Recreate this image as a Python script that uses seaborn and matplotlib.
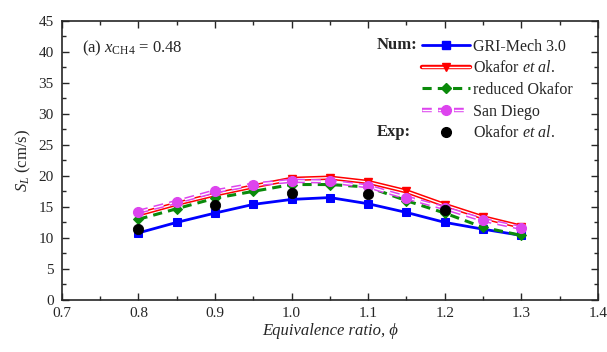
import numpy as np
import pandas as pd
import matplotlib
matplotlib.use("Agg")
import matplotlib.pyplot as plt
import seaborn as sns
from matplotlib.lines import Line2D
from matplotlib.ticker import MultipleLocator

sns.set_style("ticks")
plt.rcParams['font.family'] = ['Liberation Serif', 'DejaVu Serif']
plt.rcParams['mathtext.fontset'] = 'custom'
plt.rcParams['mathtext.rm'] = 'Liberation Serif'
plt.rcParams['mathtext.it'] = 'Liberation Serif:italic'

phi = [0.8, 0.85, 0.9, 0.95, 1.0, 1.05, 1.1, 1.15, 1.2, 1.25, 1.3]
gri = [10.8, 12.5, 14.0, 15.4, 16.2, 16.5, 15.5, 14.1, 12.5, 11.4, 10.4]
okafor = [13.8, 15.5, 17.0, 18.3, 19.5, 19.7, 19.0, 17.5, 15.3, 13.3, 11.8]
reduced = [13.0, 14.7, 16.4, 17.5, 18.6, 18.6, 18.2, 16.0, 14.0, 11.7, 10.4]
sandiego = [14.2, 15.8, 17.5, 18.6, 19.2, 19.1, 18.3, 16.5, 14.8, 12.9, 11.6]
exp_phi = [0.8, 0.9, 1.0, 1.1, 1.2]
exp_sl = [11.4, 15.3, 17.3, 17.0, 14.5]
xticks = [0.7, 0.8, 0.9, 1.0, 1.1, 1.2, 1.3, 1.4]

c_blue = '#0000ff'
c_red = '#ff0000'
c_green = '#0a8a0a'
c_pink = '#dd44ee'

fig = plt.figure(figsize=(6.07, 3.52), dpi=100)
ax = fig.add_axes([0.102, 0.148, 0.883, 0.793])

# GRI
sns.lineplot(x=phi, y=gri, ax=ax, color=c_blue, lw=2, marker='s', markersize=6,
             markeredgecolor=c_blue, zorder=3)
# Okafor (double line)
sns.lineplot(x=phi, y=okafor, ax=ax, color=c_red, lw=3.2, zorder=4)
ax.plot(phi, okafor, color='white', lw=1.0, zorder=4.1)
ax.plot(phi, okafor, ls='none', marker='v', color=c_red, markersize=6, zorder=4.2)
# reduced
sns.lineplot(x=phi, y=reduced, ax=ax, color=c_green, lw=2.2, ls=(0, (3, 2)),
             marker='D', markersize=5.5, markeredgecolor=c_green, zorder=5)
# San Diego (hollow dashes)
sns.lineplot(x=phi, y=sandiego, ax=ax, color=c_pink, lw=3.2, ls=(0, (2.2, 1.4)), zorder=6)
ax.plot(phi, sandiego, color='white', lw=1.0, ls=(0, (7.04, 4.48)), zorder=6.1)
ax.plot(phi, sandiego, ls='none', marker='o', color=c_pink, markersize=7, zorder=6.2)
# Experiment
sns.scatterplot(x=exp_phi, y=exp_sl, ax=ax, color='black', s=55, edgecolor='black', zorder=7)

ax.set_xlim(0.7, 1.4)
ax.set_ylim(0, 45)
ax.set_xticks(xticks)
ax.set_xticklabels([f"{v:.1f}" for v in xticks])
ax.xaxis.set_minor_locator(MultipleLocator(0.05))
ax.yaxis.set_major_locator(MultipleLocator(5))
ax.yaxis.set_minor_locator(MultipleLocator(2.5))
ax.tick_params(which='both', direction='in', top=True, right=True, labelsize=11, width=1)
ax.tick_params(which='major', length=5)
ax.tick_params(which='minor', length=3)
ax.tick_params(axis='y', pad=6)
ax.tick_params(axis='x', pad=5)
for s in ax.spines.values():
    s.set_linewidth(1.2)

ax.set_xlabel('Equivalence ratio, ϕ', fontsize=12, fontstyle='italic', labelpad=2)
ax.set_ylabel(r'$S_L$ (cm/s)', fontsize=12, labelpad=4)

ax.text(0.037, 0.885, r'(a) $x_{\mathrm{CH4}}$ = 0.48', transform=ax.transAxes, fontsize=12)

h_gri = Line2D([], [], color=c_blue, lw=2, marker='s', markersize=6)
h_ok = (Line2D([], [], color=c_red, lw=3.2), Line2D([], [], color='white', lw=1.0),
        Line2D([], [], ls='none', marker='v', color=c_red, markersize=6))
h_red = Line2D([], [], color=c_green, lw=2.2, ls=(0, (3, 2)), marker='D', markersize=5.5)
h_sd = (Line2D([], [], color=c_pink, lw=3.2, ls=(0, (2.2, 1.4))),
        Line2D([], [], color='white', lw=1.0, ls=(0, (7.04, 4.48))),
        Line2D([], [], ls='none', marker='o', color=c_pink, markersize=7))
h_exp = Line2D([], [], ls='none', marker='o', color='black', markersize=7)
leg = ax.legend([h_gri, h_ok, h_red, h_sd, h_exp],
                ['GRI-Mech 3.0', 'Okafor $\\mathit{et\\ al.}$', 'reduced Okafor', 'San Diego',
                 'Okafor $\\mathit{et\\ al.}$'],
                loc='upper left', bbox_to_anchor=(0.66, 0.958), frameon=False, fontsize=11.5,
                handlelength=3.0, handletextpad=0.2, labelspacing=0.35, borderaxespad=0)
ax.text(0.588, 0.913, 'Num:', transform=ax.transAxes, fontsize=12, fontweight='bold', va='center')
ax.text(0.588, 0.601, 'Exp:', transform=ax.transAxes, fontsize=12, fontweight='bold', va='center')

fig.savefig('out.png', dpi=100)
